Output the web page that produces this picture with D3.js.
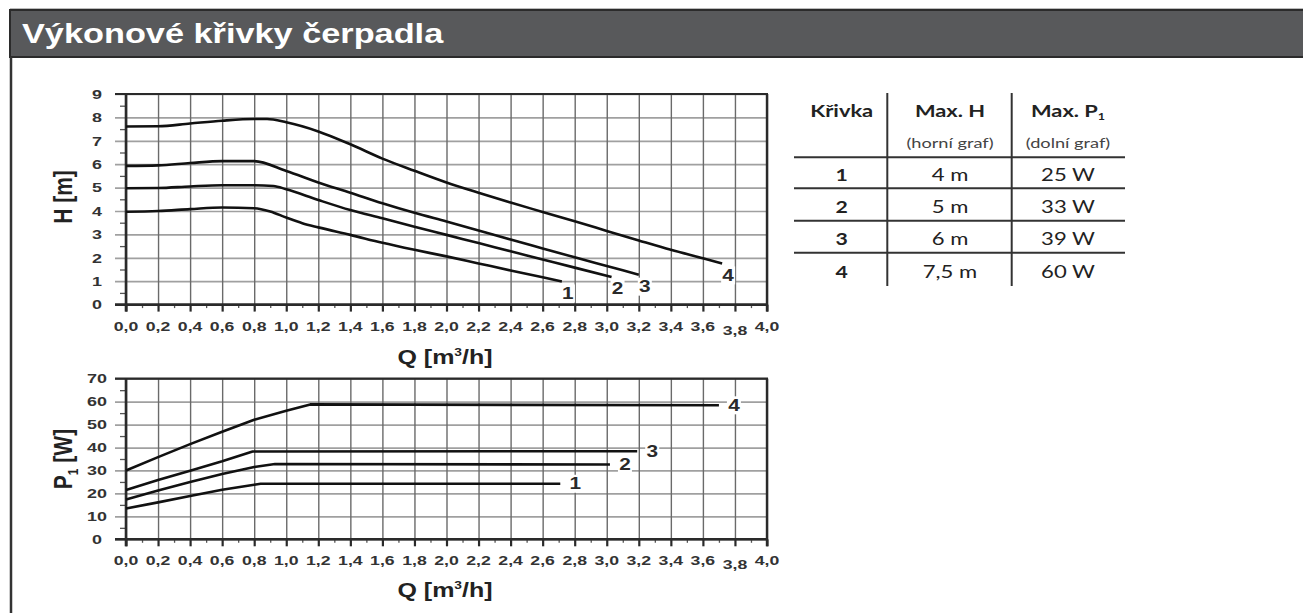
<!DOCTYPE html>
<html><head><meta charset="utf-8">
<script src="https://cdn.jsdelivr.net/npm/d3@7"></script>
<style>
body{margin:0;background:#fff;}
svg{display:block;font-family:"Liberation Sans",Arial,sans-serif;}
</style>
</head><body>
<svg id="c" width="1303" height="613"></svg>
<script>
// ---------- data ----------
const chartTitle = "Výkonové křivky čerpadla";
const qTicks = [0,0.2,0.4,0.6,0.8,1.0,1.2,1.4,1.6,1.8,2.0,2.2,2.4,2.6,2.8,3.0,3.2,3.4,3.6,3.8,4.0];
const qTickLabels = ["0,0","0,2","0,4","0,6","0,8","1,0","1,2","1,4","1,6","1,8","2,0","2,2","2,4","2,6","2,8","3,0","3,2","3,4","3,6","3,8","4,0"];
const qMinor = [0.1,0.3,0.5,0.7,0.9,1.1,1.3,1.5,1.7,1.9,2.1,2.3,2.5,2.7,2.9,3.1,3.3,3.5,3.7,3.9];
const hTicks = [0,1,2,3,4,5,6,7,8,9];
const hTickLabels = ["0","1","2","3","4","5","6","7","8","9"];
const hMinor = [0.5,1.5,2.5,3.5,4.5,5.5,6.5,7.5,8.5];
const pTicks = [0,10,20,30,40,50,60,70];
const pTickLabels = ["0","10","20","30","40","50","60","70"];
const pMinor = [5,15,25,35,45,55,65];
const curveNames = ["1","2","3","4"];

// upper graph: H [m] vs Q [m3/h]
const qH1 = [0,0.2,0.4,0.6,0.8,0.9,1.0,1.1,1.2,1.4,1.6,1.8,2.0,2.2,2.4,2.6,2.72];
const vH1 = [3.97,4.0,4.08,4.15,4.12,3.98,3.72,3.48,3.3,2.98,2.64,2.34,2.06,1.76,1.46,1.17,0.99];
const qH2 = [0,0.2,0.4,0.6,0.8,0.92,1.0,1.2,1.4,1.6,1.8,2.0,2.2,2.4,2.6,2.8,3.03];
const vH2 = [4.97,4.98,5.05,5.1,5.1,5.07,4.93,4.47,4.04,3.69,3.33,2.98,2.63,2.28,1.93,1.58,1.18];
const qH3 = [0,0.2,0.4,0.6,0.8,1.0,1.2,1.4,1.6,1.8,2.0,2.2,2.4,2.6,2.8,3.0,3.2];
const vH3 = [5.93,5.95,6.05,6.13,6.13,5.71,5.22,4.78,4.33,3.92,3.55,3.17,2.78,2.4,2.02,1.65,1.28];
const qH4 = [0,0.2,0.4,0.6,0.8,0.88,1.0,1.2,1.4,1.6,1.8,2.0,2.2,2.4,2.6,2.8,3.0,3.2,3.4,3.6,3.72];
const vH4 = [7.61,7.62,7.74,7.86,7.93,7.93,7.79,7.4,6.85,6.24,5.72,5.22,4.78,4.36,3.96,3.56,3.15,2.74,2.34,1.98,1.76];

// lower graph: P1 [W] vs Q [m3/h]
const qP1 = [0,0.2,0.4,0.6,0.8,0.84,2.71];
const vP1 = [13.4,16.1,18.9,21.6,23.8,24.2,24.2];
const qP2 = [0,0.2,0.4,0.6,0.8,0.93,3.02];
const vP2 = [17.4,21.3,25.0,28.5,31.5,32.8,32.6];
const qP3 = [0,0.2,0.4,0.6,0.79,3.19];
const vP3 = [21.5,25.8,29.9,34.0,38.3,38.4];
const qP4 = [0,0.2,0.4,0.6,0.8,1.0,1.15,3.70];
const vP4 = [30.0,35.8,41.5,46.9,52.1,56.0,58.8,58.4];

// table
const tblCurve = ["1","2","3","4"];
const tblMaxH = ["4 m","5 m","6 m","7,5 m"];
const tblMaxP = ["25 W","33 W","39 W","60 W"];

// ---------- drawing ----------
const svg = d3.select("#c");
const SX = 1.38; // horizontal stretch of lettering

function sText(parent, str, x, y, o = {}) {
  const t = parent.append("text")
    .attr("transform", `translate(${x},${y}) scale(${o.sx ?? SX},1)`)
    .attr("text-anchor", o.anchor || "middle")
    .attr("font-size", o.size || 12.5)
    .attr("font-weight", o.weight || "bold")
    .attr("fill", o.fill || "#333")
    .attr("font-family", o.family || null);
  if (str !== null) t.text(str);
  return t;
}

// header bar and panel frame
svg.append("line").attr("x1",10).attr("x2",1303).attr("y1",8.5).attr("y2",8.5).attr("stroke","#bbb").attr("stroke-width",1);
svg.append("rect").attr("x",10).attr("y",10).attr("width",1300).attr("height",47)
  .attr("fill","#58595b").attr("stroke","#2b2b2b").attr("stroke-width",2);
svg.append("line").attr("x1",11).attr("x2",11).attr("y1",57).attr("y2",613).attr("stroke","#333").attr("stroke-width",2.5);
sText(svg, chartTitle, 22, 43, {anchor:"start", size:27, fill:"#fff", sx:1.27});

const X0 = 126, X1 = 767, GL = 115;
const x = d3.scaleLinear().domain([0,4]).range([X0,X1]);
const zip = (a,b) => a.map((v,i) => [v,b[i]]);

function panel(y, yTicks, yLabels, yMinor, series, curveType, lab, xLabelBase, titleBase, yTitle, yTitleCenter) {
  const g = svg.append("g");
  const y0 = y.range()[0], yT = y.range()[1];
  const lineGen = d3.line().x(d => x(d[0])).y(d => y(d[1])).curve(curveType);
  // horizontal grid
  g.append("g").attr("transform",`translate(${GL},0)`)
    .call(d3.axisLeft(y).tickValues(yTicks).tickSize(-(X1-GL)).tickFormat(""))
    .call(s => s.select(".domain").remove())
    .selectAll("line").attr("stroke","#a0a0a0").attr("stroke-width",1.7);
  // vertical grid
  g.append("g").attr("transform",`translate(0,${y0})`)
    .call(d3.axisBottom(x).tickValues(qTicks).tickSize(-(y0-yT)).tickFormat(""))
    .call(s => s.select(".domain").remove())
    .selectAll("line").attr("stroke","#6a6a6a").attr("stroke-width",1.4);
  // minor y ticks
  g.append("g").attr("transform",`translate(${X0-1},0)`)
    .call(d3.axisLeft(y).tickValues(yMinor).tickSize(5).tickFormat(""))
    .call(s => s.select(".domain").remove())
    .selectAll("line").attr("stroke","#555").attr("stroke-width",1.3);
  // major x ticks
  g.append("g").attr("transform",`translate(0,${y0})`)
    .call(d3.axisBottom(x).tickValues(qTicks).tickSize(7).tickFormat(""))
    .call(s => s.select(".domain").remove())
    .selectAll("line").attr("stroke","#2a2a2a").attr("stroke-width",2.2);
  // minor x ticks
  g.append("g").attr("transform",`translate(0,${y0})`)
    .call(d3.axisBottom(x).tickValues(qMinor).tickSize(3.5).tickFormat(""))
    .call(s => s.select(".domain").remove())
    .selectAll("line").attr("stroke","#555").attr("stroke-width",1.3);
  // frame
  const fr = (x1,y1,x2,y2,w) => g.append("line").attr("x1",x1).attr("y1",y1).attr("x2",x2).attr("y2",y2).attr("stroke","#2a2a2a").attr("stroke-width",w);
  fr(GL, yT, X1+1, yT, 2.2);
  fr(GL, y0, X1+1, y0, 2.6);
  fr(X0, yT, X0, y0+7, 2.6);
  fr(X1, yT, X1, y0+7, 2.4);
  // curves
  series.forEach((pts) => {
    g.append("path").attr("d", lineGen(pts)).attr("fill","none")
      .attr("stroke","#111").attr("stroke-width",2.6).attr("stroke-linejoin","round");
  });
  // curve labels
  series.forEach((pts, i) => {
    const e = pts[pts.length-1];
    const cx = x(e[0]) + lab.dx, cy = y(e[1]) + lab.dy;
    g.append("rect").attr("x",cx-7).attr("y",cy-9).attr("width",14).attr("height",18).attr("fill","#fff");
    sText(g, curveNames[i], cx, cy+5.5, {size:16, sx:1.3, fill:"#2a2a2a"});
  });
  // y tick labels
  yTicks.forEach((v,i) => sText(g, yLabels[i], 97, y(v)+4.7, {size:13}));
  // x tick labels
  qTicks.forEach((v,i) => sText(g, qTickLabels[i], x(v), xLabelBase + (v === 3.8 ? 4 : 0), {size:13, sx:1.36}));
  // x title
  const xt = sText(g, null, 445, titleBase, {size:20, sx:1.25, fill:"#222"});
  xt.append("tspan").text("Q [m");
  xt.append("tspan").attr("font-size",11).attr("dy",-8).text("3");
  xt.append("tspan").attr("dy",8).text("/h]");
  // y title (rotated)
  const yt = g.append("text").attr("transform",`translate(72,${yTitleCenter}) rotate(-90) scale(1,1.2)`)
    .attr("text-anchor","middle").attr("font-size",21).attr("font-weight","bold").attr("fill","#222");
  yTitle(yt);
}

const yH = d3.scaleLinear().domain([0,9]).range([304.6,94]);
const yP = d3.scaleLinear().domain([0,70]).range([539.3,378.7]);

panel(yH, hTicks, hTickLabels, hMinor,
  [zip(qH1,vH1), zip(qH2,vH2), zip(qH3,vH3), zip(qH4,vH4)], d3.curveMonotoneX,
  {dx:6, dy:12}, 331, 364,
  t => t.text("H [m]"), 197);

panel(yP, pTicks, pTickLabels, pMinor,
  [zip(qP1,vP1), zip(qP2,vP2), zip(qP3,vP3), zip(qP4,vP4)], d3.curveLinear,
  {dx:15, dy:0}, 565, 597,
  t => { t.append("tspan").text("P"); t.append("tspan").attr("font-size",12).attr("dy",5).text("1"); t.append("tspan").attr("dy",-5).text(" [W]"); }, 459);

// ---------- table ----------
const tb = svg.append("g");
const colX = [841.7, 950, 1068];
const tLine = (x1,y1,x2,y2) => tb.append("line").attr("x1",x1).attr("y1",y1).attr("x2",x2).attr("y2",y2).attr("stroke","#333").attr("stroke-width",2);
[157.3,188.3,220.7,252.7].forEach(yy => tLine(794, yy, 1125, yy));
tLine(887.3, 93, 887.3, 286);
tLine(1011.7, 93, 1011.7, 286);
const tf = {family:"Lato, 'Open Sans', sans-serif", sx:1.25, fill:"#222"};
sText(tb, "Křivka", colX[0], 117, {...tf, size:17.5});
sText(tb, "Max. H", colX[1], 117, {...tf, size:17.5});
const mp = sText(tb, null, colX[2], 117, {...tf, size:17.5});
mp.append("tspan").text("Max. P");
mp.append("tspan").attr("font-size",10).attr("dy",3).text("1");
sText(tb, "(horní graf)", colX[1], 148, {...tf, size:14, weight:"normal", fill:"#444", sx:1.3});
sText(tb, "(dolní graf)", colX[2], 148, {...tf, size:14, weight:"normal", fill:"#444", sx:1.3});
const rowC = [174.5, 206.5, 239, 271.5];
tblCurve.forEach((s,i) => {
  sText(tb, s, colX[0], rowC[i]+6, {...tf, size:17});
  sText(tb, tblMaxH[i], colX[1], rowC[i]+6, {...tf, size:17, weight:"normal", sx:1.3});
  sText(tb, tblMaxP[i], colX[2], rowC[i]+6, {...tf, size:17, weight:"normal", sx:1.3});
});
</script>
</body></html>
